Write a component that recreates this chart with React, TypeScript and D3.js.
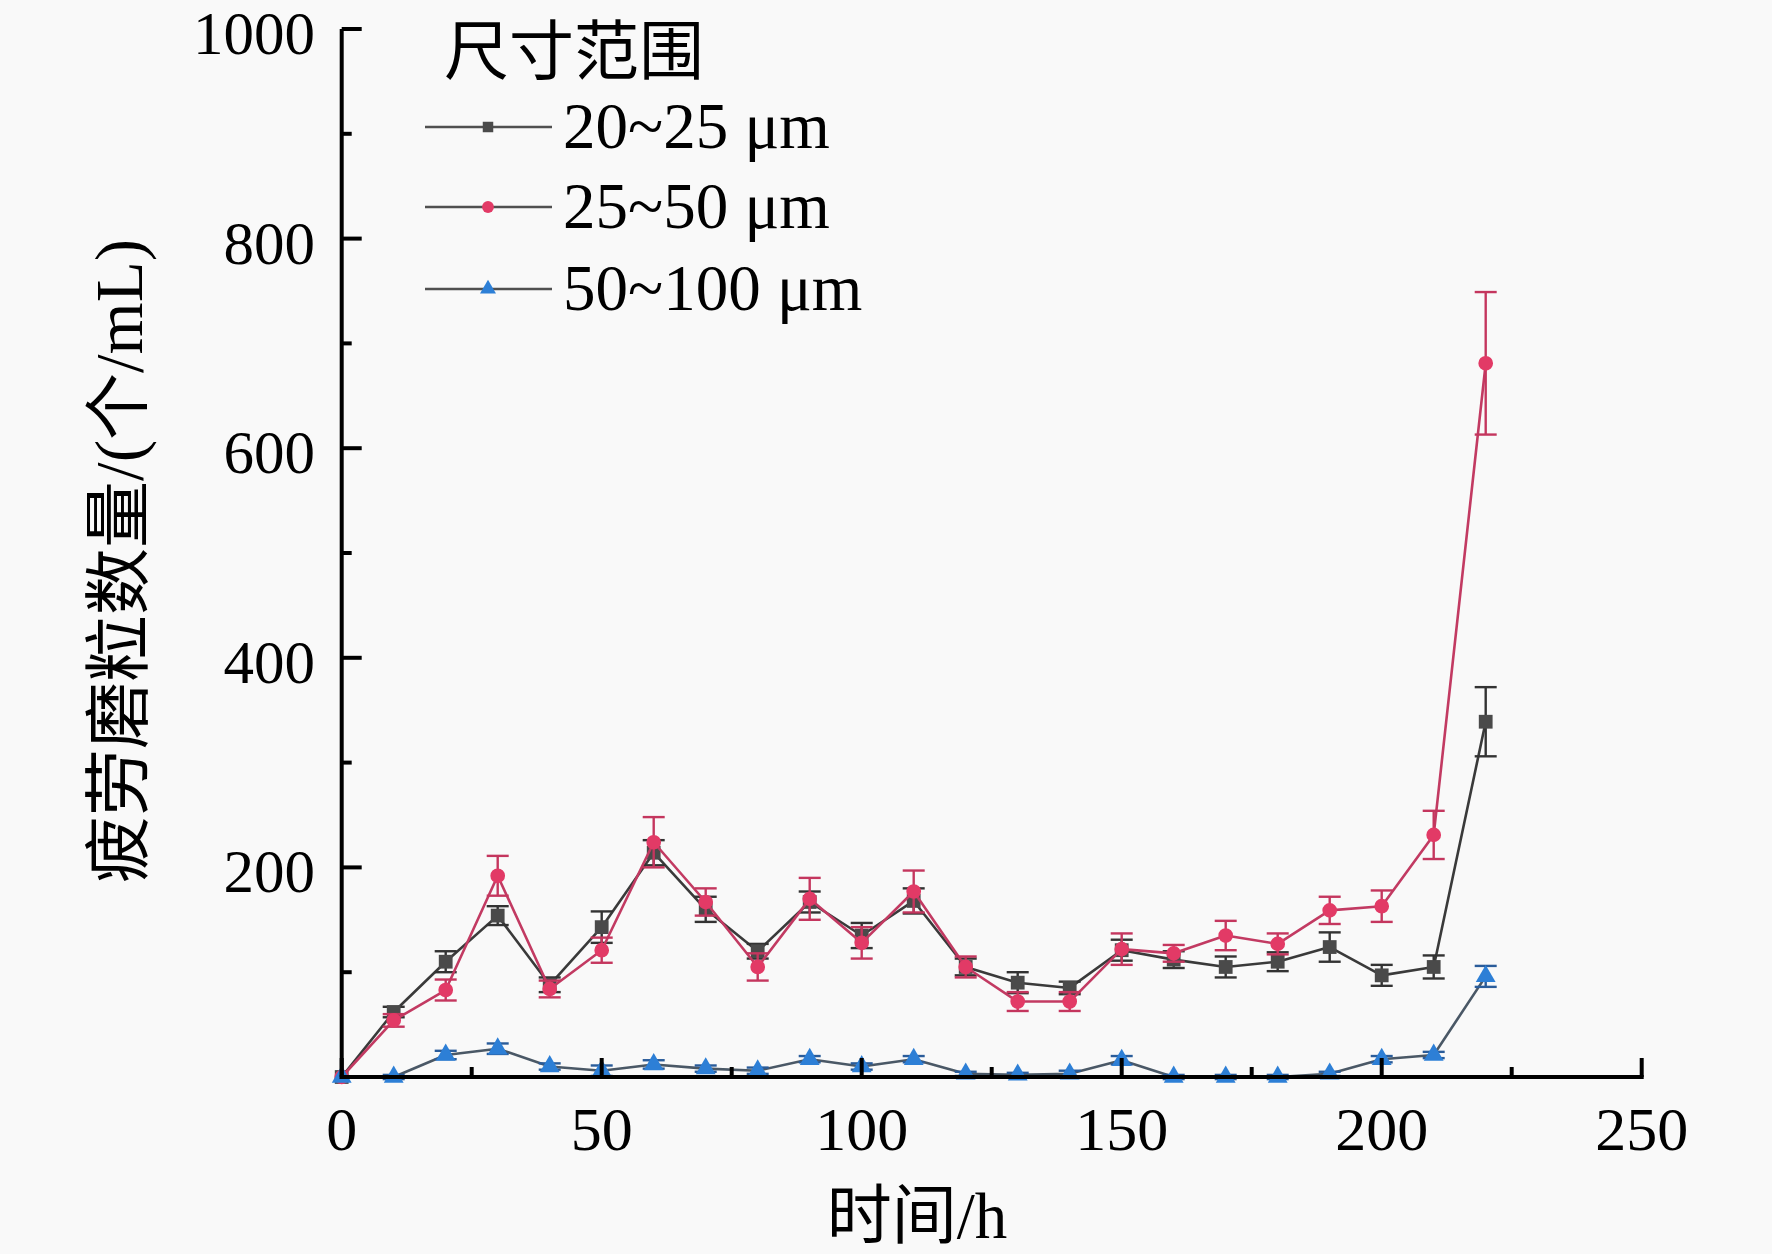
import React from "react";
import * as d3 from "d3";

const times = [0, 10, 20, 30, 40, 50, 60, 70, 80, 90, 100, 110, 120, 130, 140, 150, 160, 170, 180, 190, 200, 210, 220];
const s20_25 = [0, 62, 110, 154, 88, 143, 214, 160, 120, 167, 135, 168, 105, 90, 85, 121, 112, 105, 110, 124, 97, 105, 339];
const s20_25Err = [0, 5, 10, 9, 7, 15, 12, 12, 7, 10, 12, 12, 8, 10, 6, 10, 8, 10, 9, 14, 10, 11, 33];
const s25_50 = [0, 54, 83, 192, 84, 121, 224, 167, 105, 170, 128, 177, 105, 72, 72, 122, 118, 135, 127, 159, 163, 231, 681];
const s25_50Err = [0, 6, 10, 19, 8, 12, 24, 13, 13, 20, 15, 20, 10, 9, 9, 15, 8, 14, 10, 13, 15, 23, 68];
const s50_100 = [0, 0, 21, 27, 10, 6, 12, 8, 6, 17, 10, 17, 3, 2, 3, 16, 0, 0, 0, 3, 17, 21, 96];
const s50_100Err = [0, 2, 4, 5, 3, 5, 4, 3, 3, 3, 3, 3, 2, 2, 3, 4, 2, 2, 2, 2, 3, 3, 10];

const xTicks = [0, 50, 100, 150, 200, 250];
const xMinor = [25, 75, 125, 175, 225];
const yTicks = [200, 400, 600, 800, 1000];
const yMinor = [100, 300, 500, 700, 900];

const legendTitle = "尺寸范围";
const seriesNames = ["20~25 μm", "25~50 μm", "50~100 μm"];
const xTitle = "时间/h";
const yTitle = "疲劳磨粒数量/(个/mL)";

const W = 1772;
const H = 1254;
const FONT = "'Liberation Serif', 'Times New Roman', 'Noto Sans CJK SC', serif";

export default function App() {
  const x = d3.scaleLinear().domain([0, 250]).range([341.7, 1641.7]);
  const y = d3.scaleLinear().domain([0, 1000]).range([1077, 29]);

  const series = [
    { name: seriesNames[0], vals: s20_25, err: s20_25Err, line: "#3a3a3a", fill: "#4a4a4a", bar: "#333333", sym: d3.symbolSquare, size: 190 },
    { name: seriesNames[1], vals: s25_50, err: s25_50Err, line: "#c23a62", fill: "#e23a66", bar: "#c4365e", sym: d3.symbolCircle, size: 170 },
    { name: seriesNames[2], vals: s50_100, err: s50_100Err, line: "#4a5866", fill: "#2d7fd6", bar: "#2a5c9a", sym: d3.symbolTriangle, size: 170 },
  ];

  const lineGen = d3
    .line<number>()
    .x((_, i) => x(times[i]))
    .y((v) => y(v));

  const cap = 11;

  return (
    <div style={{ position: "absolute", left: 0, top: 0, width: W, height: H, background: "#f9f9f9" }}>
      <svg width={W} height={H} viewBox={`0 0 ${W} ${H}`} style={{ display: "block" }}>
        <rect x={0} y={0} width={W} height={H} fill="#f9f9f9" />

        {series.map((s, si) => (
          <g key={si}>
            <path d={lineGen(s.vals) || ""} fill="none" stroke={s.line} strokeWidth={2.6} strokeLinejoin="round" />
            {s.vals.map((v, i) =>
              s.err[i] > 0 ? (
                <g key={i} stroke={s.bar} strokeWidth={2.4}>
                  <line x1={x(times[i])} x2={x(times[i])} y1={y(v + s.err[i])} y2={y(v - s.err[i])} />
                  <line x1={x(times[i]) - cap} x2={x(times[i]) + cap} y1={y(v + s.err[i])} y2={y(v + s.err[i])} />
                  <line x1={x(times[i]) - cap} x2={x(times[i]) + cap} y1={y(v - s.err[i])} y2={y(v - s.err[i])} />
                </g>
              ) : null
            )}
            {s.vals.map((v, i) => (
              <path
                key={"m" + i}
                d={d3.symbol().type(s.sym).size(s.size)() || ""}
                transform={`translate(${x(times[i])},${y(v)})`}
                fill={s.fill}
                stroke="none"
              />
            ))}
          </g>
        ))}

        <g stroke="#000" strokeWidth={4} fill="none">
          <line x1={x(0)} x2={x(0)} y1={y(0) + 2} y2={y(1000)} />
          <line x1={x(0) - 2} x2={x(250) + 2} y1={y(0)} y2={y(0)} />
          {yTicks.map((t) => (
            <line key={"yt" + t} x1={x(0)} x2={x(0) + 20} y1={y(t)} y2={y(t)} />
          ))}
          {yMinor.map((t) => (
            <line key={"ym" + t} x1={x(0)} x2={x(0) + 10} y1={y(t)} y2={y(t)} />
          ))}
          {xTicks.map((t) => (
            <line key={"xt" + t} x1={x(t)} x2={x(t)} y1={y(0)} y2={y(0) - 19} />
          ))}
          {xMinor.map((t) => (
            <line key={"xm" + t} x1={x(t)} x2={x(t)} y1={y(0)} y2={y(0) - 10} />
          ))}
        </g>

        <g fontFamily={FONT} fontSize={61} fill="#000">
          {yTicks.map((t) => (
            <text key={"yl" + t} x={315} y={y(t) + 25} textAnchor="end">
              {t}
            </text>
          ))}
          {xTicks.map((t) => (
            <text key={"xl" + t} x={x(t)} y={1150} textAnchor="middle" fontSize={62}>
              {t}
            </text>
          ))}
        </g>

        <text x={917} y={1238} fontFamily={FONT} fontSize={65} textAnchor="middle" fill="#000">
          {xTitle}
        </text>
        <text
          transform={`translate(142,561) rotate(-90)`}
          fontFamily={FONT}
          fontSize={67}
          textAnchor="middle"
          fill="#000"
        >
          {yTitle}
        </text>

        <text x={444} y={74} fontFamily={FONT} fontSize={65} fill="#000">
          {legendTitle}
        </text>
        {series.map((s, i) => {
          const ly = [127, 207, 289][i];
          return (
            <g key={"lg" + i}>
              <line x1={425} x2={552} y1={ly} y2={ly} stroke="#505050" strokeWidth={2.6} />
              <path
                d={d3.symbol().type(s.sym).size(110)() || ""}
                transform={`translate(488,${ly})`}
                fill={s.fill}
              />
              <text x={563} y={ly + 21} fontFamily={FONT} fontSize={65} fill="#000">
                {s.name}
              </text>
            </g>
          );
        })}
      </svg>
    </div>
  );
}
